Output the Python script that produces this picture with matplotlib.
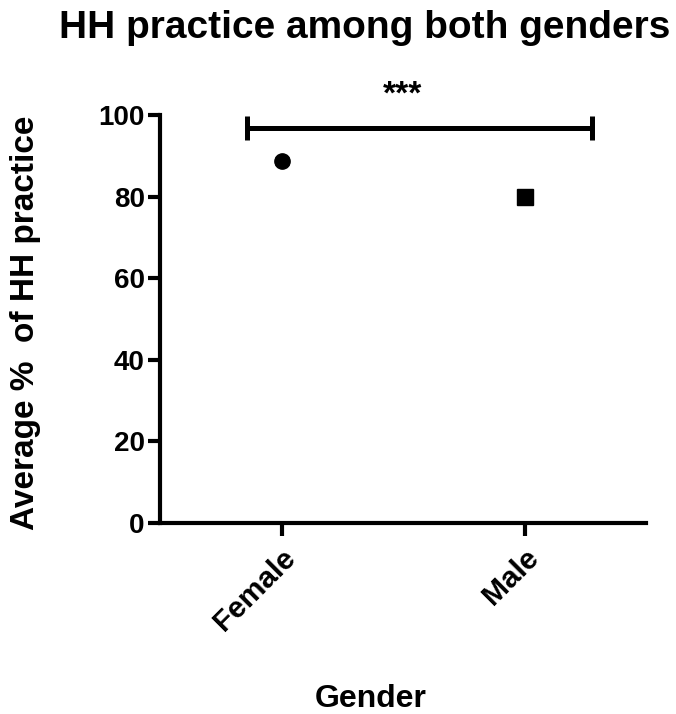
import numpy as np
import matplotlib.pyplot as plt

plt.rcParams['font.family'] = ['Liberation Sans', 'DejaVu Sans']
plt.rcParams['font.weight'] = 'bold'

genders = ['Female', 'Male']
means = [88.7, 79.8]
sems = [0.8, 0.8]
markers = ['o', 's']

W, H = 676, 714
fig = plt.figure(figsize=(W/100, H/100), dpi=100)
ax = fig.add_axes([160/W, 1 - 523/H, (646-160)/W, (523-115)/H])

x = np.arange(len(genders))
for i in range(len(genders)):
    ax.errorbar(x[i], means[i], yerr=sems[i], fmt=markers[i], color='black',
                markersize=11, capsize=5, elinewidth=2, capthick=2)

# significance bracket
bx0, bx1, by = -0.144, 1.276, 96.8
ax.plot([bx0, bx1], [by, by], color='black', lw=3.6, clip_on=False)
ax.plot([bx0, bx0], [by - 3, by + 3], color='black', lw=3.6, clip_on=False, solid_capstyle='butt')
ax.plot([bx1, bx1], [by - 3, by + 3], color='black', lw=3.6, clip_on=False, solid_capstyle='butt')
ax.text(0.5, 104.8, '***', ha='center', va='center', fontsize=24, fontweight='bold', clip_on=False)

ax.set_xlim(-0.5, 1.5)
ax.set_ylim(0, 100)
ax.set_yticks([0, 20, 40, 60, 80, 100])
ax.set_xticks(x)
ax.set_xticklabels(genders, rotation=45, ha='right', va='top', rotation_mode='anchor')
for s in ['top', 'right']:
    ax.spines[s].set_visible(False)
for s in ['left', 'bottom']:
    ax.spines[s].set_linewidth(3)
ax.tick_params(width=3, length=9, labelsize=20, pad=2)
ax.tick_params(axis='x', pad=6, labelsize=21.5)
for lab in ax.get_xticklabels() + ax.get_yticklabels():
    lab.set_fontweight('bold')

fig.text(26/W, 1 - 323/H, 'Average %  of HH practice', rotation=90, ha='center', va='center',
         fontsize=24, fontweight='bold')
fig.text(371/W, 1 - 707/H, 'Gender', ha='center', va='baseline', fontsize=23, fontweight='bold')
fig.text(365/W, 1 - 38/H, 'HH practice among both genders', ha='center', va='baseline',
         fontsize=28, fontweight='bold')

plt.savefig('out.png', dpi=100)
